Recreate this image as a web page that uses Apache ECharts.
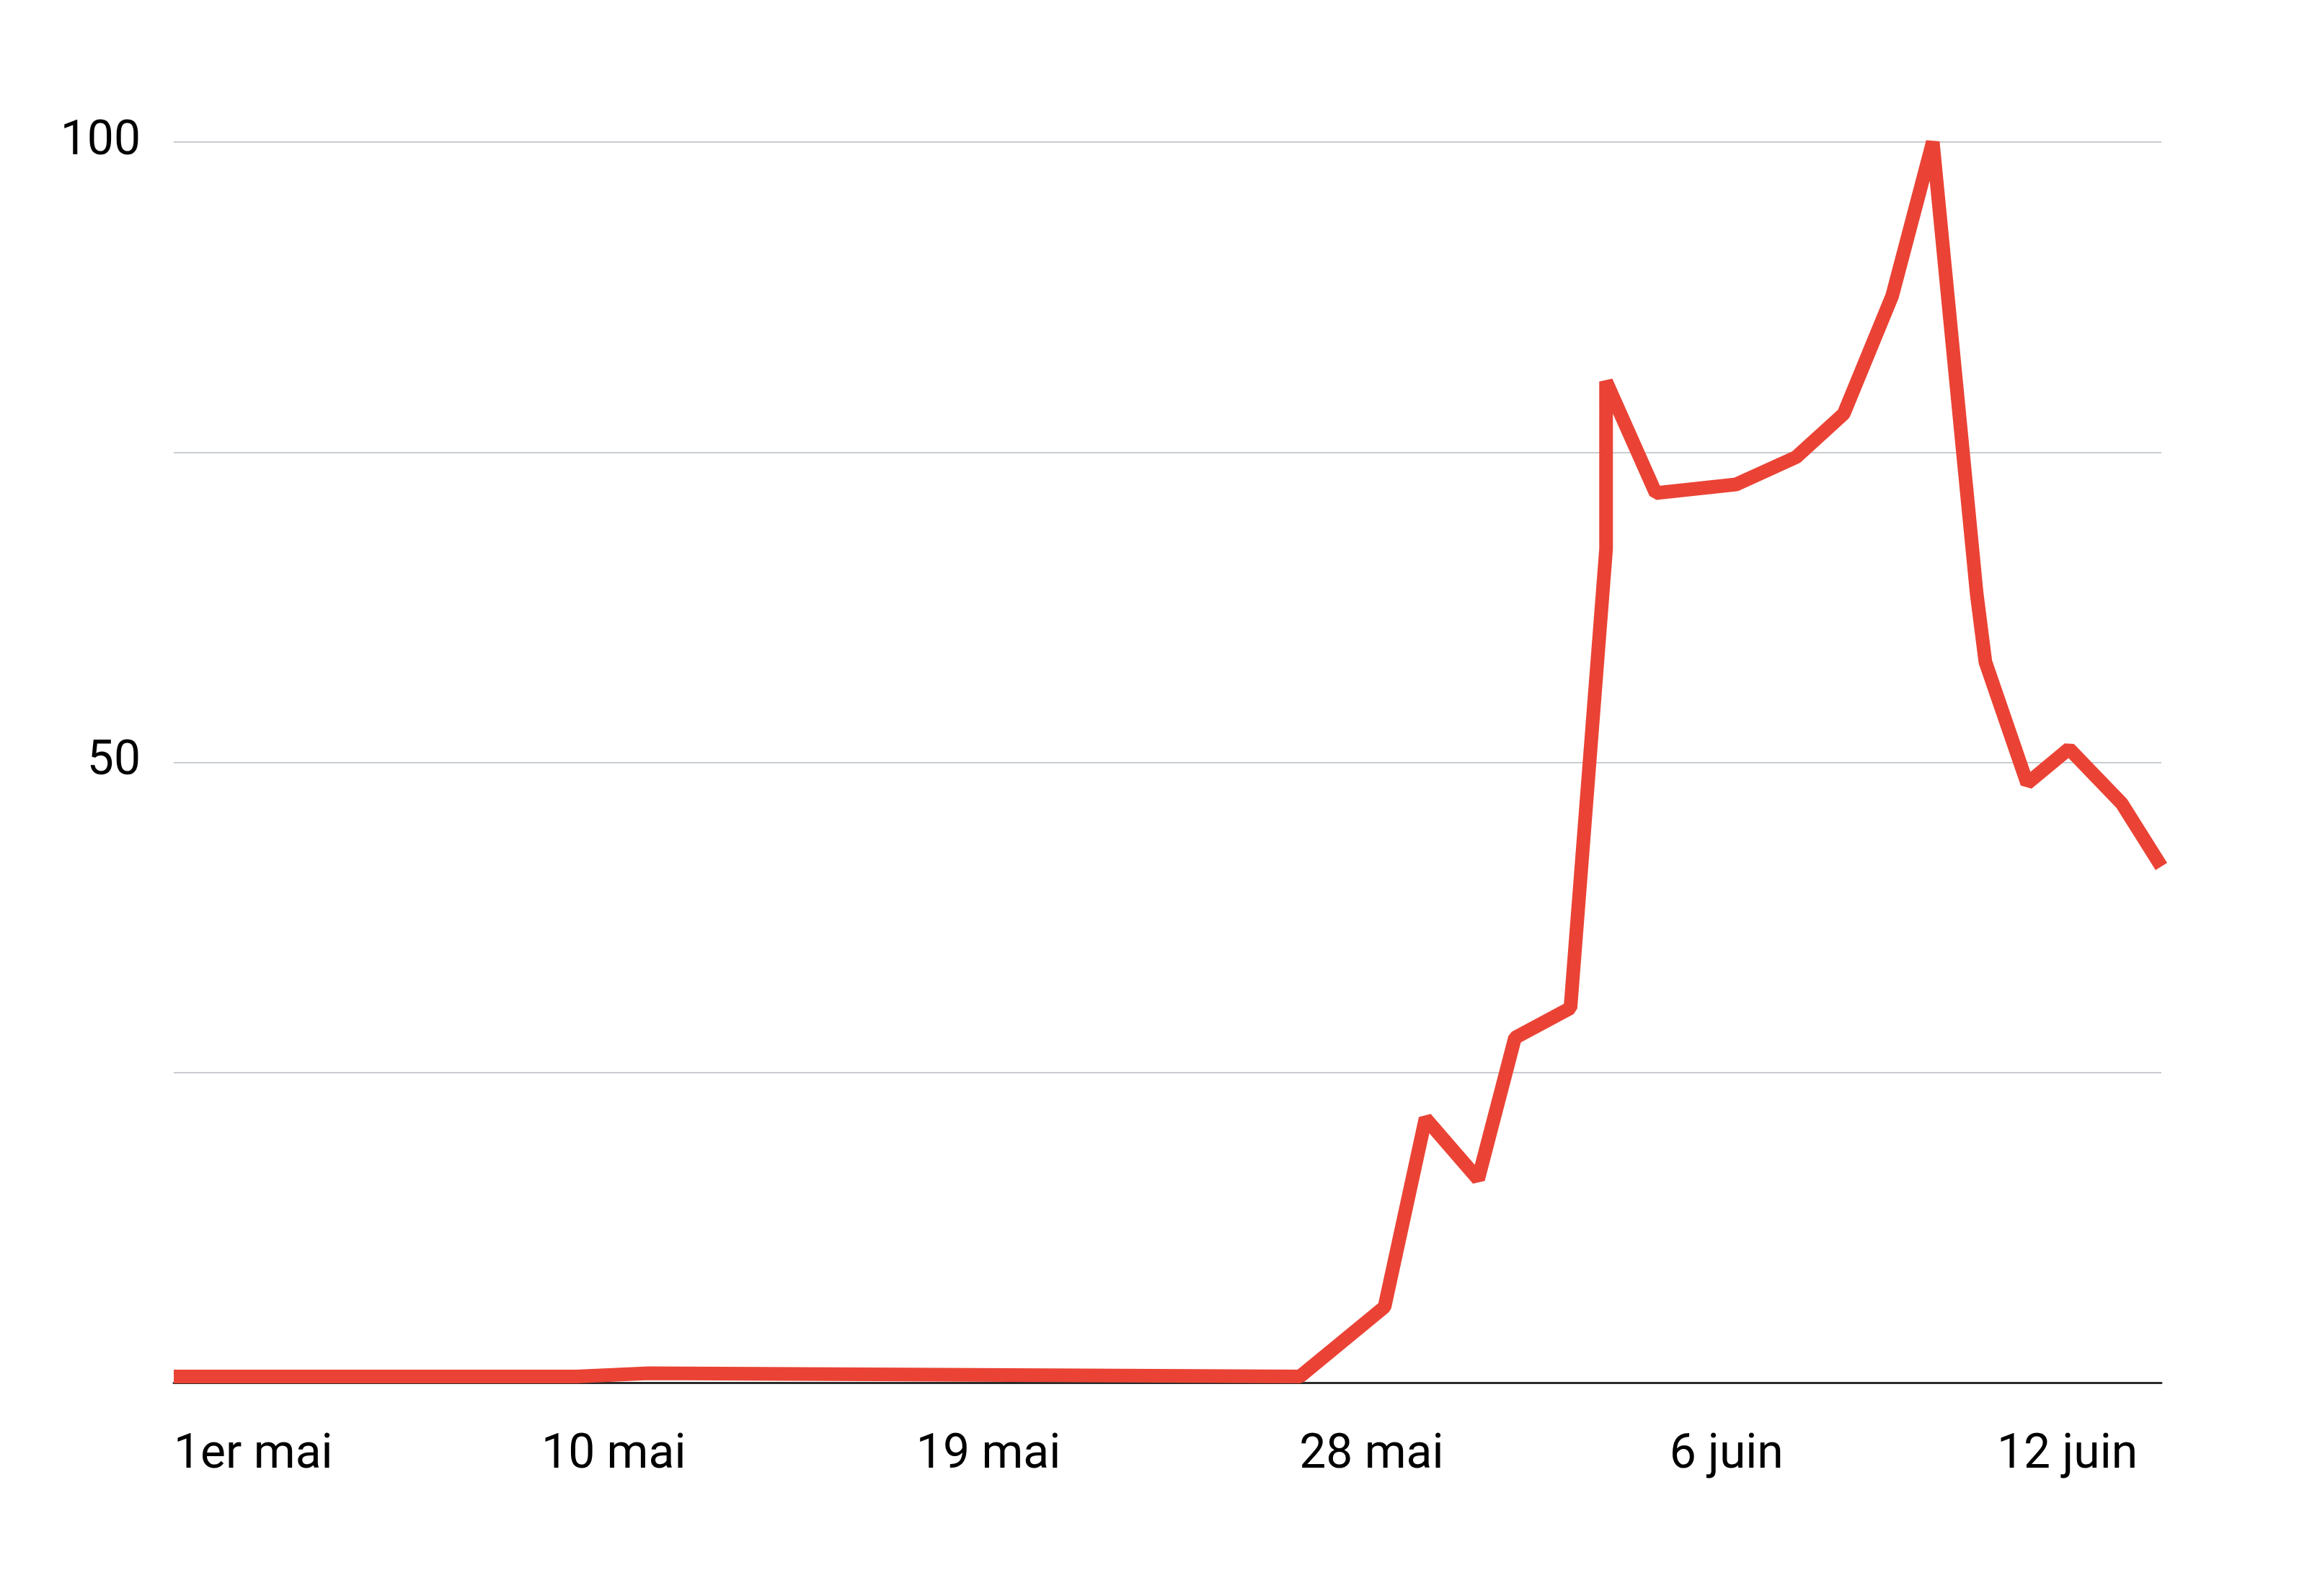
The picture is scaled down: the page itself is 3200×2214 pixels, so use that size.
<!DOCTYPE html>
<html lang="fr">
<head>
  <meta charset="utf-8">
  <title>Chart</title>
  <script src="https://cdn.jsdelivr.net/npm/echarts@6/dist/echarts.min.js"></script>
  <style>
    body { margin: 0; background: #fff; }
  </style>
</head>
<body>
<div id="main" style="width: 3200px;height:2214px;"></div>
<script type="text/javascript">
    // x = days since 1er mai (points are not evenly spaced)
    var xDays = [0, 9.73, 11.47, 27.2, 29.24, 30.23, 31.5, 32.39, 33.73, 34.59, 34.59,
        35.79, 37.73, 39.18, 40.33, 41.5, 42.48, 43.54, 43.75, 44.76, 45.77, 47.04, 48];
    var values = [0.5, 0.5, 0.75, 0.5, 6.1, 21.3, 16.4, 27.8, 30.2, 67.2, 80.7,
        71.7, 72.4, 74.6, 78.1, 87.6, 100, 63.6, 58.1, 48.3, 51.1, 46.7, 41.6];

    // x tick labels and where they sit (left edge, in days)
    var tickDays = [0, 8.88, 17.93, 27.18, 36.12, 44.03];
    var tickLabels = ['1er mai', '10 mai', '19 mai', '28 mai', '6 juin', '12 juin'];

    var yLabelValues = [50, 100];

    var points = [];
    for (var i = 0; i < xDays.length; i++) {
        points.push([xDays[i], values[i]]);
    }

    var myChart = echarts.init(document.getElementById('main'));

    var option = {
        animation: false,
        grid: {
            left: 241,
            right: 202,
            top: 197,
            bottom: 296
        },
        xAxis: {
            type: 'value',
            min: 0,
            max: 48,
            axisLine: {
                show: true,
                lineStyle: { color: '#2b2b2b', width: 3 }
            },
            axisTick: { show: false },
            splitLine: { show: false },
            axisLabel: {
                customValues: tickDays,
                align: 'left',
                margin: 68,
                fontFamily: 'Roboto',
                fontSize: 66,
                color: '#000',
                formatter: function (val) {
                    var idx = tickDays.indexOf(val);
                    return idx >= 0 ? tickLabels[idx] : '';
                }
            }
        },
        yAxis: {
            type: 'value',
            min: 0,
            max: 100,
            interval: 25,
            axisLine: { show: false },
            axisTick: { show: false },
            splitLine: {
                lineStyle: { color: '#c9ccd1', width: 2 }
            },
            axisLabel: {
                customValues: yLabelValues,
                margin: 46,
                padding: [0, 0, 20, 0],
                fontFamily: 'Roboto',
                fontSize: 66,
                color: '#000'
            }
        },
        series: [{
            type: 'line',
            data: points,
            symbol: 'none',
            clip: false,
            lineStyle: {
                color: '#ea4335',
                width: 19,
                cap: 'butt',
                join: 'bevel'
            }
        }]
    };

    myChart.setOption(option);
</script>
</body>
</html>
